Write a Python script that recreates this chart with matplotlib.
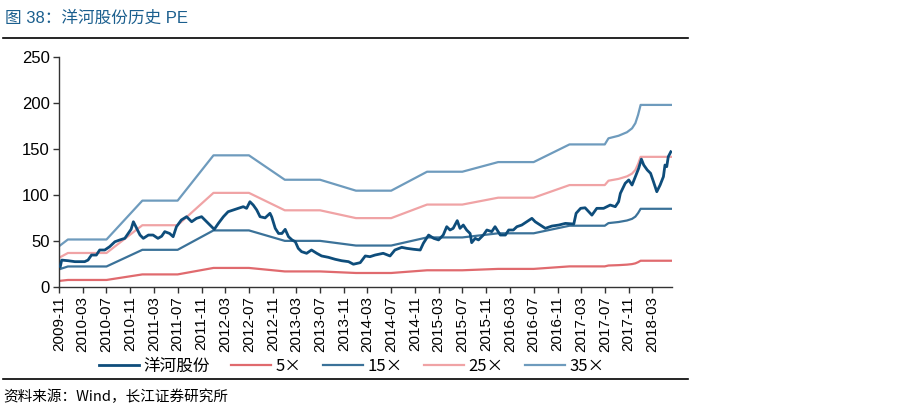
import pandas as pd
import matplotlib
matplotlib.use('Agg')
import matplotlib.pyplot as plt
import matplotlib.dates as mdates
from matplotlib.lines import Line2D

plt.rcParams['font.family'] = ['Liberation Sans', 'Noto Sans CJK SC', 'DejaVu Sans']
cjk = ['Noto Sans CJK SC', 'DejaVu Sans']
mixed = ['Liberation Sans', 'Noto Sans CJK SC', 'DejaVu Sans']

# 洋河股份 PE
pe_dates = ['2009-11-06', '2009-11-13', '2009-12-17', '2010-01-20', '2010-03-11', '2010-03-28',
            '2010-04-15', '2010-05-10', '2010-05-27', '2010-06-22', '2010-07-17', '2010-08-13',
            '2010-09-08', '2010-10-03', '2010-10-20', '2010-11-04', '2010-11-16', '2010-12-03',
            '2010-12-20', '2011-01-06', '2011-02-01', '2011-02-25', '2011-03-22', '2011-04-10',
            '2011-04-26', '2011-05-21', '2011-06-08', '2011-06-25', '2011-07-20', '2011-08-16',
            '2011-09-11', '2011-10-06', '2011-11-01', '2011-11-27', '2011-12-22', '2012-01-05',
            '2012-01-26', '2012-02-21', '2012-03-16', '2012-04-11', '2012-05-07', '2012-06-02',
            '2012-06-19', '2012-07-06', '2012-07-23', '2012-08-10', '2012-08-27', '2012-09-22',
            '2012-10-17', '2012-10-26', '2012-11-13', '2012-11-30', '2012-12-17', '2013-01-03',
            '2013-01-20', '2013-02-07', '2013-02-24', '2013-03-11', '2013-03-28', '2013-04-23',
            '2013-05-18', '2013-06-14', '2013-07-09', '2013-08-13', '2013-09-16', '2013-10-20',
            '2013-11-24', '2013-12-19', '2014-01-23', '2014-02-18', '2014-03-14', '2014-04-09',
            '2014-05-21', '2014-06-25', '2014-07-20', '2014-08-24', '2014-09-19', '2014-10-23',
            '2014-11-27', '2014-12-13', '2015-01-09', '2015-02-04', '2015-03-01', '2015-03-25',
            '2015-04-12', '2015-04-29', '2015-05-15', '2015-06-05', '2015-06-19', '2015-07-06',
            '2015-07-23', '2015-08-10', '2015-08-18', '2015-09-05', '2015-09-22', '2015-10-17',
            '2015-11-04', '2015-11-29', '2015-12-16', '2016-01-12', '2016-02-07', '2016-02-24',
            '2016-03-19', '2016-04-06', '2016-05-01', '2016-05-27', '2016-06-22', '2016-07-09',
            '2016-08-04', '2016-08-30', '2016-10-03', '2016-11-07', '2016-12-11', '2017-01-23',
            '2017-02-04', '2017-02-27', '2017-03-22', '2017-04-26', '2017-05-21', '2017-06-25',
            '2017-07-29', '2017-08-24', '2017-09-10', '2017-09-19', '2017-10-14', '2017-11-01',
            '2017-11-18', '2017-12-05', '2017-12-22', '2018-01-05', '2018-01-17', '2018-02-04',
            '2018-02-21', '2018-03-08', '2018-03-25', '2018-04-11', '2018-04-28', '2018-05-06',
            '2018-05-15', '2018-05-23', '2018-06-05']
pe_values = [22, 29, 28.3, 27.3, 27.3, 29,
             34.5, 34.5, 40, 40, 43.6, 49,
             51, 52.7, 58, 62.5, 70.8, 63.6,
             56.3, 52.7, 56.3, 56.3, 52.7, 55,
             60, 58, 54.5, 65.4, 72.7, 76.3,
             70.8, 74.5, 76.3, 70.8, 65.4, 62.5,
             69, 76.3, 81.7, 83.6, 85.4, 87.2,
             85.4, 92.6, 89, 83.6, 76.3, 75,
             80, 76, 63.6, 58, 58, 62.5,
             54.5, 51, 49, 41.8, 38.2, 36.4,
             40, 36.4, 33.5, 32, 29.9, 28.3,
             27.3, 24.5, 26.2, 33.5, 32.7, 34.5,
             36.4, 33.5, 40, 42.9, 41.8, 40.8,
             40, 47.3, 56.3, 52.7, 51, 56.3,
             65.4, 61.8, 63.6, 72, 63.6, 67.2,
             61.8, 58, 48, 52.7, 51, 56.3,
             61.8, 60, 65.4, 56.3, 56.3, 61.8,
             61.8, 65.4, 67.2, 70.8, 74.5, 70.8,
             67.2, 63.6, 66.1, 67.2, 69, 68.3,
             80, 85.4, 86, 78, 85.4, 85.4,
             89, 87.2, 92.6, 101.7, 112.7, 116.3,
             110.8, 119.9, 129, 139, 132.6, 127.2,
             123.6, 114.4, 103.5, 110.8, 119.9, 132.6,
             130.8, 141.7, 147]

# band base (value of the 1x line), band lines = multiple * base
band_dates = ['2009-11-06', '2009-12-15', '2010-07-01', '2011-01-01', '2011-07-01', '2012-01-01',
              '2012-07-01', '2013-01-01', '2013-07-01', '2014-01-01', '2014-07-01', '2015-01-01',
              '2015-07-01', '2016-01-01', '2016-07-01', '2017-01-01', '2017-07-01', '2017-07-20',
              '2017-09-10', '2017-10-23', '2017-11-18', '2017-12-05', '2017-12-19', '2018-01-01',
              '2018-06-08']
band_base = [1.29, 1.47, 1.47, 2.68, 2.68, 4.09,
             4.09, 3.33, 3.33, 2.99, 2.99, 3.58,
             3.58, 3.88, 3.88, 4.43, 4.43, 4.62,
             4.70, 4.81, 4.93, 5.09, 5.35, 5.66,
             5.66]
multiples = [5, 15, 25, 35]
band_labels = ['5×', '15×', '25×', '35×']
band_colors = ['#e06a6e', '#3b7299', '#f0a3a5', '#6e9bbd']

pe_dates = pd.to_datetime(pe_dates)
band_dates = pd.to_datetime(band_dates)
base = pd.Series(band_base)

fig = plt.figure(figsize=(9.06, 4.16), dpi=100)
ax = fig.add_axes([0.0655, 0.3108, 0.676, 0.5515])

ax.plot(pe_dates, pe_values, color='#0e4d7b', lw=2, label='洋河股份', zorder=5)
for m, lab, col in zip(multiples, band_labels, band_colors):
    ax.plot(band_dates, base * m, color=col, lw=1.6, label=lab)

ax.set_ylim(0, 250)
ax.set_yticks(range(0, 251, 50))
ax.set_xlim(pd.Timestamp('2009-11-01'), pd.Timestamp('2018-06-10'))
ticks = pd.date_range('2009-11-01', '2018-03-01', freq='4MS')
ax.set_xticks(ticks)
ax.xaxis.set_major_formatter(mdates.DateFormatter('%Y-%m'))
plt.setp(ax.get_xticklabels(), rotation=90)

for s in ['top', 'right']:
    ax.spines[s].set_visible(False)
for s in ['left', 'bottom']:
    ax.spines[s].set_color('#333333')
    ax.spines[s].set_linewidth(1)
ax.tick_params(axis='both', length=4, width=1, color='#333333', pad=3)
ax.tick_params(axis='y', labelsize=12)
ax.tick_params(axis='x', labelsize=11)

leg = fig.legend(loc='center', bbox_to_anchor=(0.388, 0.12), ncol=5, frameon=False,
                 handlelength=2.4, handletextpad=0.25, columnspacing=1.3,
                 prop={'family': cjk, 'size': 12})

# title, rules and source note
fig.text(0.0055, 0.957, '图 38：洋河股份历史 PE', color='#1b5f8e', fontsize=12,
         family=mixed, va='center', ha='left')
fig.add_artist(Line2D([3 / 906, 688 / 906], [1 - 38 / 416] * 2, color='black', lw=1.2))
fig.add_artist(Line2D([3 / 906, 688 / 906], [1 - 379 / 416] * 2, color='black', lw=1.2))
fig.text(0.0035, 0.046, '资料来源：Wind，长江证券研究所', color='black', fontsize=10.5,
         family=cjk, va='center', ha='left')

fig.savefig('out.png', dpi=100)
